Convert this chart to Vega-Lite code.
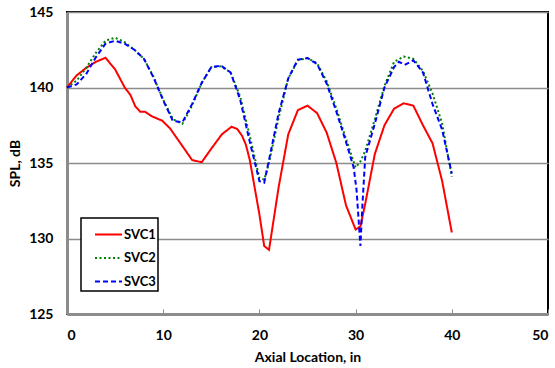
{
  "$schema": "https://vega.github.io/schema/vega-lite/v6.json",
  "width": 481,
  "height": 302,
  "autosize": "none",
  "padding": {"left": 67, "top": 12, "right": 7, "bottom": 54},
  "background": "white",
  "config": {
    "font": "Lato",
    "view": {"stroke": "black", "strokeWidth": 2},
    "axis": {
      "domainColor": "#8c8c8c",
      "domainWidth": 3,
      "tickColor": "#8c8c8c",
      "tickWidth": 1,
      "labelFont": "Lato",
      "labelFontWeight": "bold",
      "labelFontSize": 14,
      "labelColor": "black",
      "titleFont": "Lato",
      "titleFontWeight": "bold",
      "titleFontSize": 14,
      "titleColor": "black"
    },
    "legend": {
      "title": null,
      "orient": "none",
      "legendX": 14,
      "legendY": 206,
      "strokeColor": "black",
      "fillColor": "white",
      "padding": 2,
      "symbolType": "stroke",
      "symbolSize": 729,
      "symbolStrokeWidth": 2,
      "symbolOffset": 11,
      "rowPadding": 1.5,
      "labelOffset": 1,
      "labelFont": "Lato",
      "labelFontWeight": "bold",
      "labelFontSize": 13,
      "labelColor": "black"
    }
  },
  "data": {
    "values": [
      {"x": 0, "y": 140.0, "s": "SVC1"},
      {"x": 1, "y": 140.8, "s": "SVC1"},
      {"x": 2, "y": 141.3, "s": "SVC1"},
      {"x": 3, "y": 141.7, "s": "SVC1"},
      {"x": 4, "y": 141.97, "s": "SVC1"},
      {"x": 5, "y": 141.2, "s": "SVC1"},
      {"x": 6, "y": 140.0, "s": "SVC1"},
      {"x": 6.6, "y": 139.5, "s": "SVC1"},
      {"x": 7.1, "y": 138.75, "s": "SVC1"},
      {"x": 7.6, "y": 138.4, "s": "SVC1"},
      {"x": 8.1, "y": 138.4, "s": "SVC1"},
      {"x": 8.8, "y": 138.1, "s": "SVC1"},
      {"x": 9.9, "y": 137.8, "s": "SVC1"},
      {"x": 10.7, "y": 137.3, "s": "SVC1"},
      {"x": 11.8, "y": 136.3, "s": "SVC1"},
      {"x": 13, "y": 135.2, "s": "SVC1"},
      {"x": 14, "y": 135.05, "s": "SVC1"},
      {"x": 15, "y": 135.95, "s": "SVC1"},
      {"x": 16.1, "y": 136.9, "s": "SVC1"},
      {"x": 17.1, "y": 137.4, "s": "SVC1"},
      {"x": 17.7, "y": 137.25, "s": "SVC1"},
      {"x": 18.2, "y": 136.8, "s": "SVC1"},
      {"x": 18.6, "y": 136.2, "s": "SVC1"},
      {"x": 19, "y": 135.2, "s": "SVC1"},
      {"x": 20, "y": 131.6, "s": "SVC1"},
      {"x": 20.5, "y": 129.5, "s": "SVC1"},
      {"x": 21, "y": 129.25, "s": "SVC1"},
      {"x": 22, "y": 133.4, "s": "SVC1"},
      {"x": 23, "y": 136.9, "s": "SVC1"},
      {"x": 24, "y": 138.5, "s": "SVC1"},
      {"x": 25, "y": 138.8, "s": "SVC1"},
      {"x": 26, "y": 138.3, "s": "SVC1"},
      {"x": 27, "y": 137.0, "s": "SVC1"},
      {"x": 28, "y": 135.0, "s": "SVC1"},
      {"x": 29, "y": 132.2, "s": "SVC1"},
      {"x": 30, "y": 130.6, "s": "SVC1"},
      {"x": 30.5, "y": 130.8, "s": "SVC1"},
      {"x": 31, "y": 132.3, "s": "SVC1"},
      {"x": 32, "y": 135.6, "s": "SVC1"},
      {"x": 33, "y": 137.5, "s": "SVC1"},
      {"x": 34, "y": 138.6, "s": "SVC1"},
      {"x": 35, "y": 138.95, "s": "SVC1"},
      {"x": 36, "y": 138.8, "s": "SVC1"},
      {"x": 37, "y": 137.5, "s": "SVC1"},
      {"x": 38, "y": 136.3, "s": "SVC1"},
      {"x": 39, "y": 133.8, "s": "SVC1"},
      {"x": 40, "y": 130.4, "s": "SVC1"},

      {"x": 0, "y": 140.0, "s": "SVC2"},
      {"x": 1, "y": 140.45, "s": "SVC2"},
      {"x": 2, "y": 141.3, "s": "SVC2"},
      {"x": 3, "y": 142.3, "s": "SVC2"},
      {"x": 4, "y": 143.1, "s": "SVC2"},
      {"x": 5, "y": 143.3, "s": "SVC2"},
      {"x": 6, "y": 143.0, "s": "SVC2"},
      {"x": 7, "y": 142.5, "s": "SVC2"},
      {"x": 8, "y": 141.9, "s": "SVC2"},
      {"x": 9, "y": 140.7, "s": "SVC2"},
      {"x": 10, "y": 139.2, "s": "SVC2"},
      {"x": 11, "y": 137.9, "s": "SVC2"},
      {"x": 12, "y": 137.6, "s": "SVC2"},
      {"x": 13, "y": 138.8, "s": "SVC2"},
      {"x": 14, "y": 140.3, "s": "SVC2"},
      {"x": 15, "y": 141.35, "s": "SVC2"},
      {"x": 16, "y": 141.4, "s": "SVC2"},
      {"x": 17, "y": 141.0, "s": "SVC2"},
      {"x": 18, "y": 139.4, "s": "SVC2"},
      {"x": 19, "y": 136.8, "s": "SVC2"},
      {"x": 20, "y": 134.0, "s": "SVC2"},
      {"x": 20.5, "y": 133.9, "s": "SVC2"},
      {"x": 21, "y": 135.0, "s": "SVC2"},
      {"x": 22, "y": 138.0, "s": "SVC2"},
      {"x": 23, "y": 140.6, "s": "SVC2"},
      {"x": 24, "y": 141.8, "s": "SVC2"},
      {"x": 25, "y": 141.95, "s": "SVC2"},
      {"x": 26, "y": 141.6, "s": "SVC2"},
      {"x": 27, "y": 140.4, "s": "SVC2"},
      {"x": 28, "y": 138.6, "s": "SVC2"},
      {"x": 29, "y": 136.6, "s": "SVC2"},
      {"x": 30, "y": 134.7, "s": "SVC2"},
      {"x": 30.5, "y": 135.1, "s": "SVC2"},
      {"x": 31, "y": 135.8, "s": "SVC2"},
      {"x": 32, "y": 137.9, "s": "SVC2"},
      {"x": 33, "y": 140.1, "s": "SVC2"},
      {"x": 34, "y": 141.7, "s": "SVC2"},
      {"x": 35, "y": 142.05, "s": "SVC2"},
      {"x": 36, "y": 141.9, "s": "SVC2"},
      {"x": 37, "y": 141.1, "s": "SVC2"},
      {"x": 38, "y": 139.6, "s": "SVC2"},
      {"x": 39, "y": 137.6, "s": "SVC2"},
      {"x": 40, "y": 134.1, "s": "SVC2"},

      {"x": 0, "y": 140.0, "s": "SVC3"},
      {"x": 1, "y": 140.2, "s": "SVC3"},
      {"x": 2, "y": 140.9, "s": "SVC3"},
      {"x": 3, "y": 142.0, "s": "SVC3"},
      {"x": 4, "y": 142.9, "s": "SVC3"},
      {"x": 5, "y": 143.1, "s": "SVC3"},
      {"x": 6, "y": 142.9, "s": "SVC3"},
      {"x": 7, "y": 142.5, "s": "SVC3"},
      {"x": 8, "y": 141.9, "s": "SVC3"},
      {"x": 9, "y": 140.65, "s": "SVC3"},
      {"x": 10, "y": 139.15, "s": "SVC3"},
      {"x": 11, "y": 137.8, "s": "SVC3"},
      {"x": 12, "y": 137.7, "s": "SVC3"},
      {"x": 13, "y": 138.9, "s": "SVC3"},
      {"x": 14, "y": 140.3, "s": "SVC3"},
      {"x": 15, "y": 141.35, "s": "SVC3"},
      {"x": 16, "y": 141.45, "s": "SVC3"},
      {"x": 17, "y": 141.0, "s": "SVC3"},
      {"x": 18, "y": 139.2, "s": "SVC3"},
      {"x": 19, "y": 136.4, "s": "SVC3"},
      {"x": 20, "y": 133.8, "s": "SVC3"},
      {"x": 20.5, "y": 133.7, "s": "SVC3"},
      {"x": 21, "y": 135.2, "s": "SVC3"},
      {"x": 22, "y": 138.3, "s": "SVC3"},
      {"x": 23, "y": 140.6, "s": "SVC3"},
      {"x": 24, "y": 141.85, "s": "SVC3"},
      {"x": 25, "y": 141.95, "s": "SVC3"},
      {"x": 26, "y": 141.55, "s": "SVC3"},
      {"x": 27, "y": 140.25, "s": "SVC3"},
      {"x": 28, "y": 138.4, "s": "SVC3"},
      {"x": 29, "y": 136.4, "s": "SVC3"},
      {"x": 29.8, "y": 134.7, "s": "SVC3"},
      {"x": 30.1, "y": 133.2, "s": "SVC3"},
      {"x": 30.5, "y": 129.5, "s": "SVC3"},
      {"x": 30.7, "y": 132.1, "s": "SVC3"},
      {"x": 31, "y": 135.4, "s": "SVC3"},
      {"x": 32, "y": 137.6, "s": "SVC3"},
      {"x": 33, "y": 140.0, "s": "SVC3"},
      {"x": 34, "y": 141.35, "s": "SVC3"},
      {"x": 34.5, "y": 141.7, "s": "SVC3"},
      {"x": 35.1, "y": 141.5, "s": "SVC3"},
      {"x": 36, "y": 141.8, "s": "SVC3"},
      {"x": 37, "y": 141.0, "s": "SVC3"},
      {"x": 38, "y": 138.9, "s": "SVC3"},
      {"x": 39, "y": 137.2, "s": "SVC3"},
      {"x": 40, "y": 134.3, "s": "SVC3"}
    ]
  },
  "mark": {"type": "line", "strokeWidth": 2},
  "encoding": {
    "x": {
      "field": "x", "type": "quantitative",
      "scale": {"domain": [0, 50], "nice": false},
      "axis": {
        "title": "Axial Location, in",
        "values": [0, 10, 20, 30, 40, 50],
        "grid": false,
        "tickSize": -5,
        "labelPadding": 19,
        "titlePadding": 8
      }
    },
    "y": {
      "field": "y", "type": "quantitative",
      "scale": {"domain": [125, 145], "nice": false, "zero": false},
      "axis": {
        "title": "SPL, dB",
        "values": [125, 130, 135, 140, 145],
        "grid": true,
        "gridColor": "#8c8c8c",
        "gridWidth": 1.5,
        "tickSize": -5,
        "labelPadding": 19,
        "titlePadding": 6
      }
    },
    "color": {
      "field": "s", "type": "nominal",
      "scale": {"domain": ["SVC1", "SVC2", "SVC3"], "range": ["#ff0000", "#008000", "#0000ff"]},
      "legend": {
        "labelExpr": "datum.label + '\u00a0\u00a0\u00a0\u00a0'",
        "encode": {"legend": {"update": {"strokeWidth": {"value": 1.5}}}}
      }
    },
    "strokeDash": {
      "field": "s", "type": "nominal",
      "scale": {"domain": ["SVC1", "SVC2", "SVC3"], "range": [[1, 0], [2, 2.5], [5, 3]]},
      "legend": {
        "labelExpr": "datum.label + '\u00a0\u00a0\u00a0\u00a0'",
        "encode": {"legend": {"update": {"strokeWidth": {"value": 1.5}}}}
      }
    }
  }
}
